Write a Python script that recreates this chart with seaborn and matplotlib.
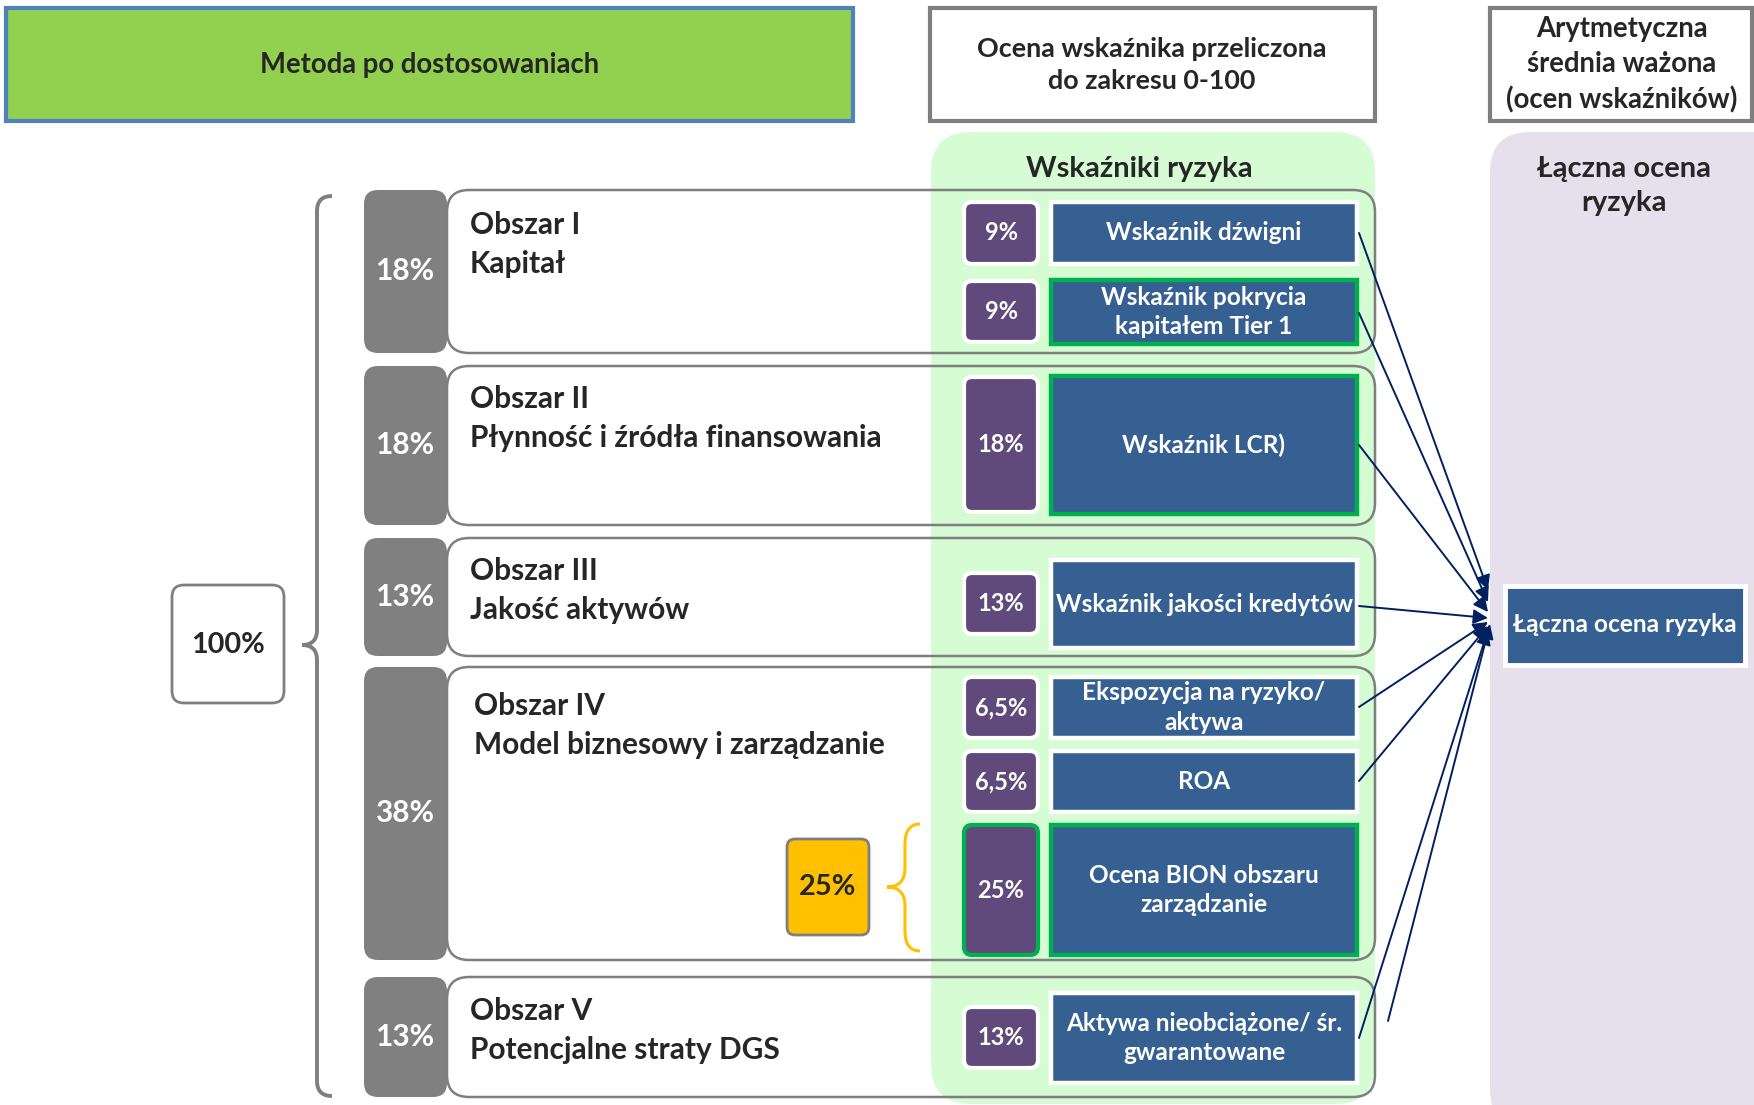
import numpy as np
import matplotlib
matplotlib.use("Agg")
import matplotlib.pyplot as plt
import seaborn as sns
from matplotlib.patches import FancyBboxPatch
from matplotlib.path import Path
from matplotlib.patches import PathPatch

# Dane schematu
obszary = ["Obszar I", "Obszar II", "Obszar III", "Obszar IV", "Obszar V"]
obszary_opis = ["Kapitał", "Płynność i źródła finansowania", "Jakość aktywów",
                "Model biznesowy i zarządzanie", "Potencjalne straty DGS"]
wagi_obszarow = ["18%", "18%", "13%", "38%", "13%"]

wskazniki = ["Wskaźnik dźwigni", "Wskaźnik pokrycia\nkapitałem Tier 1", "Wskaźnik LCR)",
             "Wskaźnik jakości kredytów", "Ekspozycja na ryzyko/\naktywa", "ROA",
             "Ocena BION obszaru\nzarządzanie", "Aktywa nieobciążone/ śr.\ngwarantowane"]
wagi_wskaznikow = ["9%", "9%", "18%", "13%", "6,5%", "6,5%", "25%", "13%"]
zielona_ramka = [False, True, True, False, False, False, True, False]

naglowki = ["Metoda po dostosowaniach", "Ocena wskaźnika przeliczona\ndo zakresu 0-100",
            "Arytmetyczna\nśrednia ważona\n(ocen wskaźników)"]
suma = "100%"
waga_bion = "25%"
wynik = "Łączna ocena ryzyka"

# Układ (piksele)
row_top = [190, 366, 538, 667, 977]
row_bot = [353, 525, 656, 960, 1097]
title_x = [470, 470, 470, 474, 470]
title_y = [225, 399, 571, 706, 1011]
ind_top = [202, 280, 376, 560, 677, 751, 825, 993]
ind_bot = [264, 344, 514, 648, 738, 812, 955, 1083]
fiol_top = [202, 281, 377, 573, 677, 751, 825, 1007]
fiol_bot = [264, 342, 512, 634, 738, 812, 955, 1068]
arrow_start_y = [233, 313, 445, 606, 707, 781, 1038]
arrow_end_y = [590, 602, 612, 618, 622, 626, 630]

sns.set_theme(style="white")
plt.rcParams["font.family"] = ["Lato", "DejaVu Sans"]
plt.rcParams["font.weight"] = "bold"

fig = plt.figure(figsize=(17.54, 11.05), dpi=100)
ax = fig.add_axes([0, 0, 1, 1])
ax.set_xlim(0, 1754)
ax.set_ylim(1105, 0)
ax.axis("off")

GRAY = "#7f7f7f"
PURPLE = "#604a7b"
BLUE = "#366092"
GREEN = "#00b050"
NAVY = "#002060"


def box(x0, y0, x1, y1, fc, ec="none", lw=0, r=0, z=1):
    style = "round,pad=0,rounding_size=%d" % r if r else "square,pad=0"
    p = FancyBboxPatch((x0, y0), x1 - x0, y1 - y0, boxstyle=style,
                       facecolor=fc, edgecolor=ec, linewidth=lw, zorder=z)
    ax.add_patch(p)
    return p


# nagłówki
box(6, 8, 853, 121, "#92d050", "#4f81bd", 3)
box(930, 8, 1375, 121, "white", GRAY, 3)
box(1490, 8, 1752, 121, "white", GRAY, 3)
ax.text(430, 65, naglowki[0], ha="center", va="center", fontsize=19.8)
ax.text(1152, 65, naglowki[1], ha="center", va="center", fontsize=19.4, linespacing=1.42)
ax.text(1622, 65, naglowki[2], ha="center", va="center", fontsize=19.8, linespacing=1.42)

# wiersze obszarów (wypełnienie)
for i in range(5):
    box(364, row_top[i], 447, row_bot[i], "#808080", r=14, z=2)
    box(447, row_top[i], 1375, row_bot[i], "white", r=22, z=2)

# panele tła
box(931, 132, 1375, 1104, "#d6fcd4", r=40, z=3)
box(1490, 132, 1800, 1130, "#e6e0ec", r=40, z=3)
ax.text(1139, 169, "Wskaźniki ryzyka", ha="center", va="center", fontsize=21, zorder=10)
ax.text(1624, 186, "Łączna ocena\nryzyka", ha="center", va="center", fontsize=21,
        linespacing=1.38, zorder=10)

# obramowania wierszy i teksty
for i in range(5):
    box(447, row_top[i], 1375, row_bot[i], "none", GRAY, 1.8, r=22, z=4)
    ax.text(405, (row_top[i] + row_bot[i]) / 2, wagi_obszarow[i], ha="center", va="center",
            color="white", fontsize=21.5, zorder=10)
    ax.text(title_x[i], title_y[i], obszary[i], ha="left", va="center", fontsize=21.5, zorder=10)
    ax.text(title_x[i], title_y[i] + 39, obszary_opis[i], ha="left", va="center",
            fontsize=21.5, zorder=10)

# wskaźniki
for i in range(8):
    ec = GREEN if zielona_ramka[i] else "white"
    fec = GREEN if i == 6 else "white"
    box(964, fiol_top[i], 1038, fiol_bot[i], PURPLE, fec, 3, r=8, z=5)
    box(1051, ind_top[i], 1357, ind_bot[i], BLUE, ec, 3.2, z=5)
    ax.text(1001, (fiol_top[i] + fiol_bot[i]) / 2, wagi_wskaznikow[i], ha="center",
            va="center", color="white", fontsize=17, zorder=10)
    ax.text(1204, (ind_top[i] + ind_bot[i]) / 2, wskazniki[i], ha="center", va="center",
            color="white", fontsize=17.6, linespacing=1.35, zorder=10)

# wynik
box(1505, 586, 1745, 665, BLUE, "white", 3.5, z=5)
ax.text(1625, 625, wynik, ha="center", va="center", color="white", fontsize=17.6, zorder=10)

# 100% i klamra
box(172, 585, 284, 703, "white", GRAY, 2, r=12, z=5)
ax.text(228, 645, suma, ha="center", va="center", fontsize=20.8, zorder=10)
klamra = Path([(332, 196), (317, 196), (317, 211), (317, 630), (317, 645), (302, 645),
               (317, 645), (317, 660), (317, 1081), (317, 1096), (332, 1096)],
              [Path.MOVETO, Path.CURVE3, Path.CURVE3, Path.LINETO, Path.CURVE3, Path.CURVE3,
               Path.CURVE3, Path.CURVE3, Path.LINETO, Path.CURVE3, Path.CURVE3])
ax.add_patch(PathPatch(klamra, facecolor="none", edgecolor=GRAY, lw=2.8, zorder=6))

# 25% i żółta klamra
box(787, 839, 869, 935, "#ffc000", GRAY, 2, r=8, z=5)
ax.text(828, 887, waga_bion, ha="center", va="center", fontsize=20.8, zorder=10)
zolta = Path([(920, 824), (905, 824), (905, 844), (905, 868), (905, 887), (887, 887),
              (905, 887), (905, 906), (905, 931), (905, 951), (920, 951)],
             [Path.MOVETO, Path.CURVE3, Path.CURVE3, Path.LINETO, Path.CURVE3, Path.CURVE3,
              Path.CURVE3, Path.CURVE3, Path.LINETO, Path.CURVE3, Path.CURVE3])
ax.add_patch(PathPatch(zolta, facecolor="none", edgecolor="#ffc000", lw=2.2, zorder=6))

# strzałki
for ys, ye in zip(arrow_start_y, arrow_end_y):
    ax.annotate("", xy=(1488, ye), xytext=(1359, ys),
                arrowprops=dict(arrowstyle="-|>", color=NAVY, lw=1.4, mutation_scale=22,
                                shrinkA=0, shrinkB=0), zorder=8)
ax.annotate("", xy=(1490, 624), xytext=(1388, 1021),
            arrowprops=dict(arrowstyle="-|>", color=NAVY, lw=1.4, mutation_scale=22,
                            shrinkA=0, shrinkB=0), zorder=8)

fig.savefig("out.png", dpi=100)
